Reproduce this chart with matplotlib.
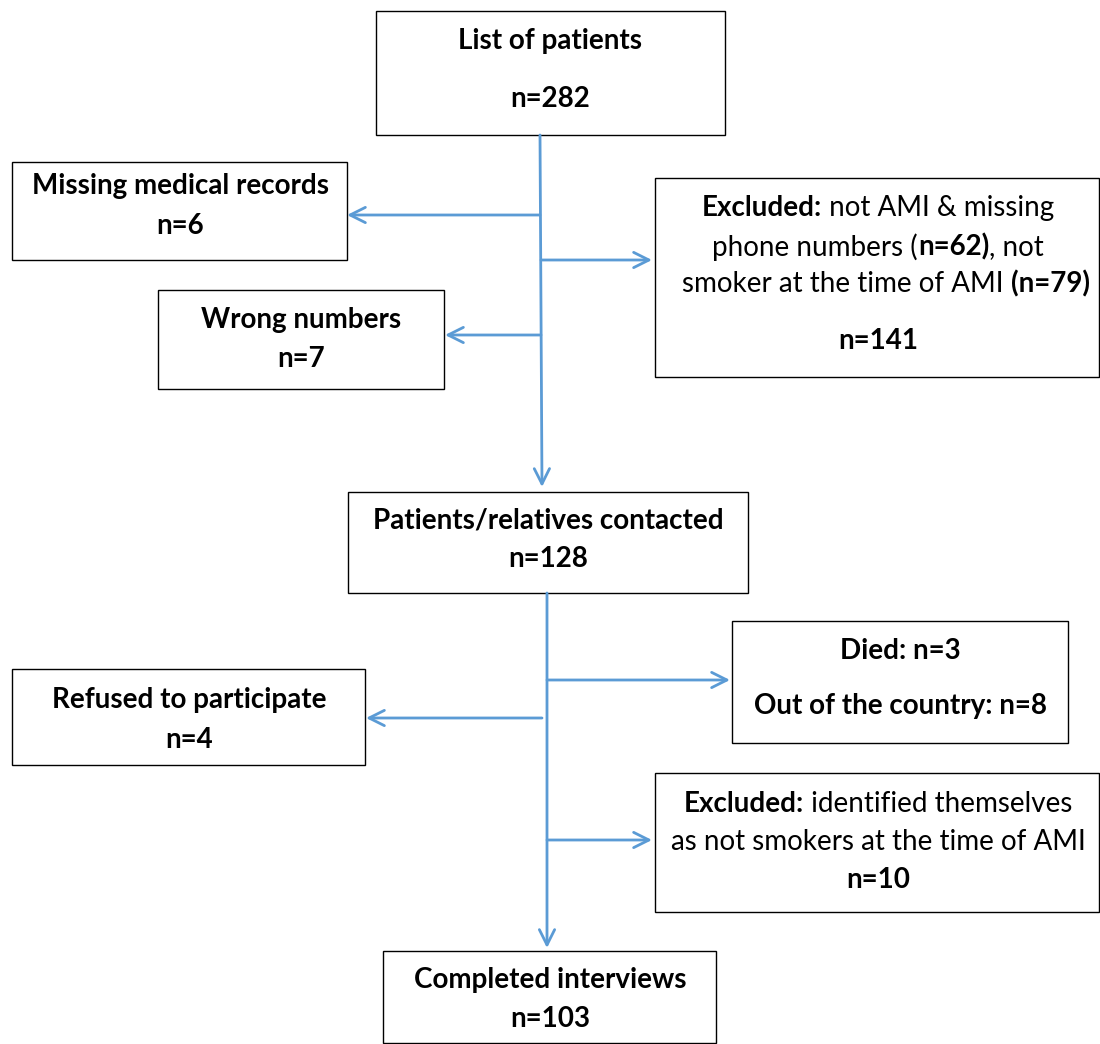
import matplotlib.pyplot as plt
from matplotlib.patches import Rectangle

plt.rcParams['font.family'] = ['Lato', 'DejaVu Sans']

W, H = 1100, 1044
BLUE = '#5b9bd5'
FS = 20

# box outlines: x0, y0, x1, y1 (pixel space of the figure)
boxes = [
    (376, 11, 725, 135),
    (12, 162, 347, 260),
    (655, 178, 1099, 377),
    (158, 290, 444, 389),
    (348, 492, 748, 593),
    (732, 621, 1068, 743),
    (12, 669, 365, 765),
    (655, 773, 1099, 912),
    (383, 951, 716, 1043),
]

# text lines per box: (center x, y, [(segment, bold), ...])
lines = [
    (550, 41, [("List of patients", True)]),
    (550, 99, [("n=282", True)]),
    (180, 186, [("Missing medical records", True)]),
    (180, 226, [("n=6", True)]),
    (878, 208, [("Excluded:", True), (" not AMI & missing", False)]),
    (878, 247, [("phone numbers (", False), ("n=62)", True), (", not", False)]),
    (886, 284, [("smoker at the time of AMI ", False), ("(n=79)", True)]),
    (878, 341, [("n=141", True)]),
    (301, 320, [("Wrong numbers", True)]),
    (301, 359, [("n=7", True)]),
    (548, 520, [("Patients/relatives contacted", True)]),
    (548, 559, [("n=128", True)]),
    (900, 651, [("Died: n=3", True)]),
    (900, 706, [("Out of the country: n=8", True)]),
    (189, 700, [("Refused to participate", True)]),
    (189, 740, [("n=4", True)]),
    (878, 804, [("Excluded:", True), (" identified themselves", False)]),
    (878, 842, [("as not smokers at the time of AMI", False)]),
    (878, 880, [("n=10", True)]),
    (550, 980, [("Completed interviews", True)]),
    (550, 1019, [("n=103", True)]),
]

# connectors as arrows (x0, y0, x1, y1)
arrows = [
    (540, 215, 347, 215),
    (541, 260, 652, 260),
    (541, 335, 445, 335),
    (540, 135, 542, 487),
    (547, 680, 730, 680),
    (542, 718, 366, 718),
    (547, 840, 652, 840),
    (547, 593, 547, 948),
]

fig = plt.figure(figsize=(W / 100, H / 100), dpi=100)
ax = fig.add_axes([0, 0, 1, 1])
ax.set_xlim(0, W)
ax.set_ylim(H, 0)
ax.axis('off')

for x0, y0, x1, y1 in boxes:
    ax.add_patch(Rectangle((x0, y0), x1 - x0, y1 - y0, fill=False,
                           edgecolor='black', linewidth=1.0))

for x0, y0, x1, y1 in arrows:
    ax.annotate('', xy=(x1, y1), xytext=(x0, y0),
                arrowprops=dict(arrowstyle='->,head_length=1.1,head_width=0.55',
                                color=BLUE, lw=2.0, shrinkA=0, shrinkB=0))

renderer = fig.canvas.get_renderer()
for cx, y, parts in lines:
    texts = []
    for s, bold in parts:
        t = ax.text(0, y, s, fontsize=FS, fontweight='bold' if bold else 'normal',
                    va='center', ha='left', color='black')
        texts.append(t)
    widths = [t.get_window_extent(renderer).width for t in texts]
    x = cx - sum(widths) / 2
    for t, w in zip(texts, widths):
        t.set_x(x)
        x += w

fig.savefig('out.png', dpi=100, facecolor='white')
